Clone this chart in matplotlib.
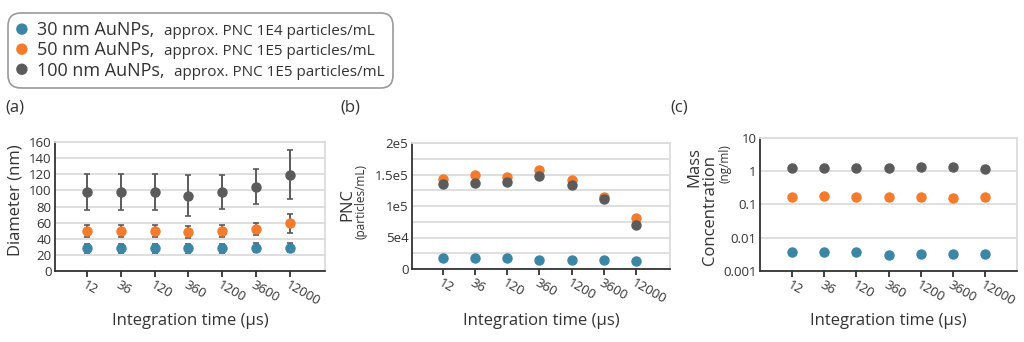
import matplotlib
matplotlib.use("Agg")
import matplotlib.pyplot as plt
from matplotlib.offsetbox import AnchoredOffsetbox, HPacker, VPacker, TextArea, DrawingArea
from matplotlib.patches import Circle
from matplotlib.transforms import ScaledTranslation

plt.rcParams['font.family'] = ['Open Sans', 'DejaVu Sans']

# integration times (us), shown as categories
times = ['12', '36', '120', '360', '1200', '3600', '12000']

sizes = ['30 nm AuNPs,', '50 nm AuNPs,', '100 nm AuNPs,']
notes = ['approx. PNC 1E4 particles/mL', 'approx. PNC 1E5 particles/mL', 'approx. PNC 1E5 particles/mL']
colors = ['#3a86a4', '#f47a2c', '#5b5b5b']

# measured diameter (nm) and its spread
diam_30 = [28, 28, 28, 28, 28, 29, 29]
diam_30_err = [6, 6, 6, 6, 6, 6, 6]
diam_50 = [49.5, 49.5, 49.5, 48, 49.5, 52, 59]
diam_50_err = [7, 7, 7, 7.5, 7, 7.5, 12]
diam_100 = [98, 98, 98, 93.5, 98.5, 104.5, 119.5]
diam_100_err = [22, 22, 22, 25.5, 21, 22, 30.5]

# particle number concentration (particles/mL)
pnc_30 = [16900, 17400, 17900, 13700, 14200, 14200, 13200]
pnc_50 = [142500, 148800, 146700, 157800, 140900, 114500, 80700]
pnc_100 = [135000, 137200, 137700, 147200, 133000, 111900, 69100]

# mass concentration (ng/ml)
mass_30 = [0.0037, 0.0038, 0.0037, 0.00295, 0.00316, 0.0033, 0.0032]
mass_50 = [0.17, 0.178, 0.174, 0.17, 0.17, 0.158, 0.166]
mass_100 = [1.29, 1.29, 1.29, 1.23, 1.32, 1.32, 1.17]

TXT = '#333333'
GRID = '#dcdcdc'
W, H = 1024, 342

fig = plt.figure(figsize=(10.24, 3.42), dpi=100)
ax_a = fig.add_axes([55 / W, 1 - 271 / H, 270 / W, 129 / H])
ax_b = fig.add_axes([412 / W, 1 - 269 / H, 258 / W, 126 / H])
ax_c = fig.add_axes([760 / W, 1 - 271 / H, 257 / W, 133 / H])


def style_axes(ax, label_y):
    ax.set_xlim(-0.95, 7.05)
    ax.set_xticks(range(len(times)))
    shift = ScaledTranslation(-6 / 100, 0, fig.dpi_scale_trans)
    ax.set_xticklabels(times, rotation=-30, ha='left', rotation_mode='anchor',
                       fontsize=9.5, color=TXT)
    for lab in ax.get_xticklabels():
        lab.set_transform(lab.get_transform() + shift)
    ax.tick_params(axis='x', length=4, width=1.3, color=TXT, pad=1.5)
    ax.tick_params(axis='y', length=0, labelsize=9.5, labelcolor=TXT, pad=2.5)
    for s in ['left', 'bottom']:
        ax.spines[s].set_color(TXT)
        ax.spines[s].set_linewidth(1.3)
    for s in ['top', 'right']:
        ax.spines[s].set_color(GRID)
        ax.spines[s].set_linewidth(1.3)
    ax.grid(axis='y', which='both', color=GRID, linewidth=1.3)
    ax.set_axisbelow(True)
    ax.set_xlabel('Integration time (µs)', fontsize=12, color=TXT)
    ax.xaxis.label.set_va('baseline')
    ax.xaxis.set_label_coords(0.5, label_y)


x = list(range(len(times)))

# (a) diameter with error bars
for y, e, c in [(diam_100, diam_100_err, colors[2]), (diam_50, diam_50_err, colors[1]),
                (diam_30, diam_30_err, colors[0])]:
    ax_a.errorbar(x, y, yerr=e, fmt='o', color=c, ecolor=colors[2], elinewidth=1.4,
                  capsize=2.5, capthick=1.2, markersize=6.5, zorder=3)
ax_a.set_ylim(0, 160)
ax_a.set_yticks(range(0, 161, 20))
style_axes(ax_a, -54 / 129)

# (b) particle number concentration
for y, c in [(pnc_50, colors[1]), (pnc_100, colors[2]), (pnc_30, colors[0])]:
    ax_b.plot(x, y, 'o', color=c, markersize=6.5, zorder=3)
ax_b.set_ylim(0, 200000)
ax_b.set_yticks([0, 50000, 100000, 150000, 200000])
ax_b.set_yticklabels(['0', '5e4', '1e5', '1.5e5', '2e5'])
ax_b.set_yticks([25000, 75000, 125000, 175000], minor=True)
ax_b.tick_params(axis='y', which='minor', length=0)
style_axes(ax_b, -56 / 126)

# (c) mass concentration, log scale
for y, c in [(mass_100, colors[2]), (mass_50, colors[1]), (mass_30, colors[0])]:
    ax_c.plot(x, y, 'o', color=c, markersize=6.5, zorder=3)
ax_c.set_yscale('log')
ax_c.set_ylim(0.001, 10)
ax_c.set_yticks([0.001, 0.01, 0.1, 1, 10])
ax_c.set_yticklabels(['0.001', '0.01', '0.1', '1', '10'])
ax_c.minorticks_off()
style_axes(ax_c, -54 / 133)
ax_c.set_xlim(-1, 7)


def ylab(px, py, s, size):
    # rotated label placed by its baseline
    fig.text(px / W, 1 - py / H, s, rotation=90, rotation_mode='anchor',
             ha='center', va='baseline', fontsize=size, color=TXT)


ylab(20, 200, 'Diameter (nm)', 12)
ylab(351, 204.5, 'PNC', 12)
ylab(364, 201.5, '(particles/mL)', 8.5)
ylab(698, 167.5, 'Mass', 12)
ylab(714, 210, 'Concentration', 12)
ylab(728, 164, '(ng/ml)', 8.5)

# panel tags
for px, tag in [(5, '(a)'), (340, '(b)'), (670, '(c)')]:
    fig.text(px / W, 1 - 108 / H, tag, ha='left', va='center', fontsize=12, color=TXT)

# legend with mixed text sizes
rows = []
for name, note, c in zip(sizes, notes, colors):
    dot = DrawingArea(8, 8, 0, 0)
    dot.add_artist(Circle((4, 4.5), 3.6, color=c))
    rows.append(HPacker(children=[dot,
                                  TextArea(name, textprops=dict(size=13, color=TXT)),
                                  TextArea(note, textprops=dict(size=11, color=TXT))],
                        align='baseline', pad=0, sep=7))
body = VPacker(children=rows, align='left', pad=0, sep=1.5)
box = AnchoredOffsetbox(loc='upper left', child=body, pad=0.6, borderpad=0,
                        bbox_to_anchor=(8 / W, 1 - 13 / H),
                        bbox_transform=fig.transFigure, frameon=True)
box.patch.set_boxstyle('round,pad=0,rounding_size=0.9')
box.patch.set_edgecolor('#9a9a9a')
box.patch.set_linewidth(1.2)
fig.add_artist(box)

fig.savefig('out.png', dpi=100)
